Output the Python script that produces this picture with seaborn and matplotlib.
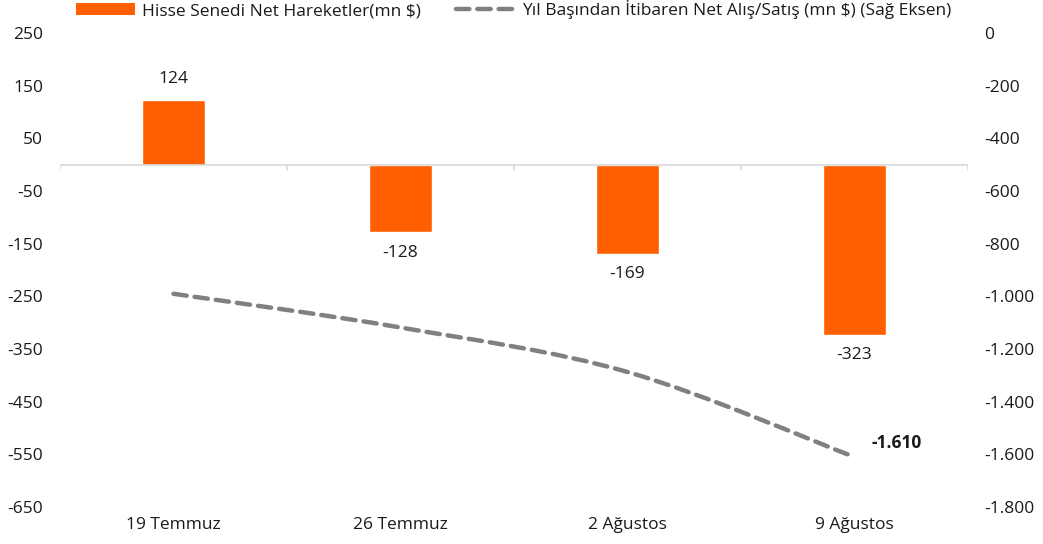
import matplotlib
matplotlib.use("Agg")
import matplotlib.pyplot as plt
from matplotlib.path import Path
from matplotlib.patches import PathPatch, Patch
from matplotlib.lines import Line2D
import numpy as np
import seaborn as sns

# data
categories = ["19 Temmuz", "26 Temmuz", "2 Ağustos", "9 Ağustos"]
net_flows = [124, -128, -169, -323]
ytd_flows = [-990, -1118, -1287, -1610]
left_ticks = [250, 150, 50, -50, -150, -250, -350, -450, -550, -650]
right_ticks = [0, -200, -400, -600, -800, -1000, -1200, -1400, -1600, -1800]

BAR_COLOR = "#FF5F00"
LINE_COLOR = "#808080"
TEXT_COLOR = "#1a1a1a"
FS = 12.5

sns.set_theme(style="white")
plt.rcParams["font.family"] = ["Open Sans", "DejaVu Sans"]
plt.rcParams["text.color"] = TEXT_COLOR


def tr_fmt(v):
    return f"{v:,.0f}".replace(",", ".")


def smooth_path(xs, ys):
    # Excel-style smoothed line (Catmull-Rom converted to cubic Bezier)
    pts = np.column_stack([xs, ys]).astype(float)
    verts = [pts[0]]
    codes = [Path.MOVETO]
    n = len(pts)
    for i in range(n - 1):
        p0 = pts[i - 1] if i > 0 else pts[i]
        p1 = pts[i]
        p2 = pts[i + 1]
        p3 = pts[i + 2] if i + 2 < n else pts[i + 1]
        c1 = p1 + (p2 - p0) / 6
        c2 = p2 - (p3 - p1) / 6
        verts += [c1, c2, p2]
        codes += [Path.CURVE4] * 3
    return Path(verts, codes)


fig = plt.figure(figsize=(10.43, 5.44), dpi=100)
ax = fig.add_axes([0.0575, 0.068, 0.8705, 0.871])

sns.barplot(x=categories, y=net_flows, color=BAR_COLOR, width=0.28,
            saturation=1, ax=ax)
ax.set_xlim(-0.5, len(categories) - 0.5)
ax.set_ylim(-650, 250)
ax.set_yticks(left_ticks)
ax.set_yticklabels([str(t) for t in left_ticks])
for s in ax.spines.values():
    s.set_visible(False)
ax.tick_params(axis="y", length=0, pad=12, labelsize=FS, labelcolor=TEXT_COLOR)
ax.tick_params(axis="x", length=0, pad=7, labelsize=FS, labelcolor=TEXT_COLOR)

# zero line with category separators
ax.axhline(0, color="#d9d9d9", lw=1.2, zorder=1)
for b in np.arange(-0.5, len(categories), 1.0):
    ax.plot([b, b], [0, -10], color="#d9d9d9", lw=1.2, zorder=1)

for i, v in enumerate(net_flows):
    off = 9 if v > 0 else -9
    ax.annotate(str(v), (i, v), xytext=(0, off), textcoords="offset points",
                ha="center", va="bottom" if v > 0 else "top", fontsize=FS)

ax2 = ax.twinx()
ax2.set_position(ax.get_position())
ax2.set_ylim(-1800, 0)
ax2.set_yticks(right_ticks)
ax2.set_yticklabels([tr_fmt(t) for t in right_ticks])
for s in ax2.spines.values():
    s.set_visible(False)
ax2.tick_params(axis="y", length=0, pad=12, labelsize=FS, labelcolor=TEXT_COLOR)
ax2.grid(False)

path = smooth_path(np.arange(len(categories)), ytd_flows)
ax2.add_patch(PathPatch(path, fill=False, edgecolor=LINE_COLOR, lw=3.2,
                        linestyle=(0, (3, 1.8)), capstyle="round"))
ax2.annotate(tr_fmt(ytd_flows[-1]), (len(categories) - 1, ytd_flows[-1]),
             xytext=(12, 10), textcoords="offset points", ha="left",
             va="center", fontsize=FS, fontweight="bold")

handles = [
    Patch(facecolor=BAR_COLOR, edgecolor="none",
          label="Hisse Senedi Net Hareketler(mn $)"),
    Line2D([0], [0], color=LINE_COLOR, lw=3.2, linestyle=(0, (3, 1.8)),
           dash_capstyle="round",
           label="Yıl Başından İtibaren Net Alış/Satış (mn $) (Sağ Eksen)"),
]
fig.legend(handles=handles, loc="upper left", bbox_to_anchor=(0.058, 1.028),
           ncol=2, frameon=False, fontsize=FS, handlelength=3.4,
           handleheight=0.7, columnspacing=2.0, handletextpad=0.4)

fig.savefig("out.png", dpi=100)
